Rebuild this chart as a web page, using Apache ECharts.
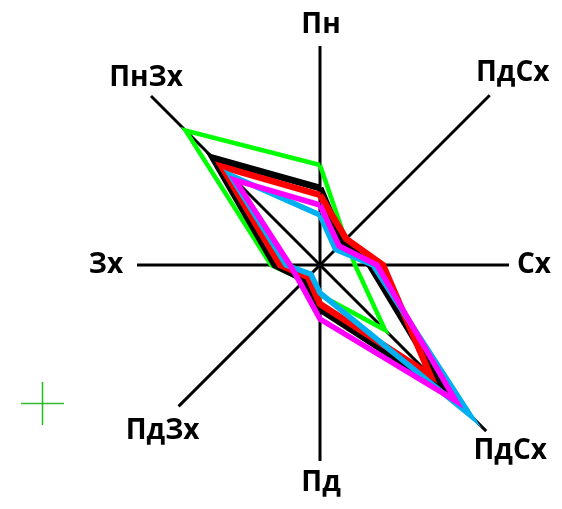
<!DOCTYPE html>
<html>
<head>
<meta charset="utf-8">
<script src="https://cdn.jsdelivr.net/npm/echarts@6/dist/echarts.min.js"></script>
<style>
  html, body { margin: 0; padding: 0; background: #fff; }
  #chart { width: 562px; height: 509px; }
</style>
</head>
<body>
<div id="chart"></div>
<script>
// directions, clockwise from north
const directions = ['Пн', 'ПдСх', 'Сх', 'ПдСх', 'Пд', 'ПдЗх', 'Зх', 'ПнЗх']
// the axes in the picture are not all the same length
const axisLength = [219, 240, 189, 235, 196, 200, 183, 239]

const greenValues = [100, 36, 35, 92, 30, 22, 49, 190]
const blackValues = [77, 32, 50, 178, 44, 21, 45, 151]
const redValues = [70, 37, 63, 156, 39, 17, 40, 139]
const cyanValues = [50, 22, 53, 212, 28, 13, 34, 127]
const magentaValues = [60, 27, 57, 192, 54, 27, 30, 120]

// where each direction label sits relative to the end of its axis
const labelOffset = [[1, -21], [23, -22], [25, 0], [24, 20], [1, 22], [-16, 25], [-31, 0], [-5, -18]]

function closed(values) {
  const pts = values.map((v, i) => [v, i])
  pts.push([values[0], 0])
  return pts
}

function polygon(name, values, color, width) {
  return {
    name: name,
    type: 'line',
    coordinateSystem: 'polar',
    data: closed(values),
    symbol: 'none',
    silent: true,
    lineStyle: { color: color, width: width, join: 'miter' }
  }
}

const axisSeries = directions.map((name, i) => ({
  type: 'line',
  coordinateSystem: 'polar',
  symbol: 'circle',
  symbolSize: 1,
  showSymbol: true,
  silent: true,
  itemStyle: { color: 'transparent' },
  lineStyle: { color: '#000', width: 3 },
  data: [
    [0, i],
    {
      value: [axisLength[i], i],
      label: {
        show: true,
        position: 'inside',
        offset: labelOffset[i],
        formatter: name,
        color: '#000',
        fontFamily: 'Open Sans',
        fontWeight: 'bold',
        fontSize: 28
      }
    }
  ]
}))

const chart = echarts.init(document.getElementById('chart'))
chart.setOption({
  backgroundColor: '#fff',
  animation: false,
  polar: { center: [320, 265], radius: 242 },
  radiusAxis: { min: 0, max: 242, show: false },
  // categories sit in the middle of their bands, so shift the start by half a band
  angleAxis: {
    type: 'category',
    data: directions,
    startAngle: 112.5,
    clockwise: true,
    boundaryGap: true,
    show: false
  },
  graphic: [
    { type: 'line', shape: { x1: 21, y1: 403.5, x2: 64, y2: 403.5 }, style: { stroke: '#33bb33', lineWidth: 1.5 } },
    { type: 'line', shape: { x1: 42.5, y1: 382, x2: 42.5, y2: 425 }, style: { stroke: '#22bb22', lineWidth: 1.5 } }
  ],
  series: axisSeries.concat([
    polygon('green', greenValues, '#00ff00', 4.5),
    polygon('black', blackValues, '#000000', 7),
    polygon('red', redValues, '#ff0000', 6.5),
    polygon('cyan', cyanValues, '#00b0f0', 5.5),
    polygon('magenta', magentaValues, '#ff00ff', 5.5)
  ])
})
</script>
</body>
</html>
